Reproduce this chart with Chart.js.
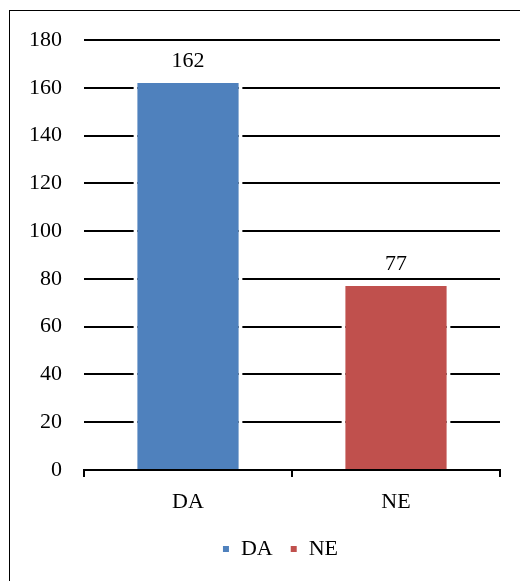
<!DOCTYPE html>
<html>
<head>
<meta charset="utf-8">
<script src="https://cdn.jsdelivr.net/npm/chart.js@4/dist/chart.umd.min.js"></script>
<style>
  html, body { margin: 0; padding: 0; background: #fff; overflow: hidden; }
  #frame { position: absolute; left: 9px; top: 10px; width: 540px; height: 600px; border: 1.5px solid #000; box-sizing: border-box; }
  #wrap { position: absolute; left: 0; top: 0; width: 520px; height: 581px; }
</style>
</head>
<body>
<div id="frame"></div>
<div id="wrap"><canvas id="myChart"></canvas></div>
<script>
// values
const categories = ['DA', 'NE']
const counts = [162, 77]
const barColors = ['#4F81BD', '#C0504D']
const yTicks = [0, 20, 40, 60, 80, 100, 120, 140, 160, 180]

const fontFamily = '"Liberation Serif", "Times New Roman", serif'
const fontSize = 22

// value on top of each bar
const topLabels = {
	id: 'topLabels',
	afterDatasetsDraw(chart) {
		const ctx = chart.ctx
		ctx.save()
		ctx.font = fontSize + 'px ' + fontFamily
		ctx.fillStyle = '#000'
		ctx.textAlign = 'center'
		ctx.textBaseline = 'bottom'
		chart.data.datasets.forEach((ds, i) => {
			const meta = chart.getDatasetMeta(i)
			meta.data.forEach((bar, j) => {
				if (ds.data[j] == null) return
				ctx.fillText(ds.data[j], bar.x, bar.y - 11)
			})
		})
		ctx.restore()
	}
}

// legend sits a bit right of centre in the original
const legendShift = {
	id: 'legendShift',
	afterLayout(chart) {
		chart.legend.left += 30
		chart.legend.right += 30
	}
}

// one dataset per category so the legend shows both
const datasets = categories.map((name, i) => ({
	label: name,
	data: categories.map((c, j) => (j === i ? counts[i] : null)),
	backgroundColor: barColors[i],
	borderColor: '#ffffff',
	borderWidth: { top: 0, left: 4, right: 4, bottom: 0 },
	borderSkipped: false,
	skipNull: true,
	barPercentage: 0.525,
	categoryPercentage: 1.0,
}))

new Chart(document.getElementById('myChart'), {
	type: 'bar',
	data: { labels: categories, datasets: datasets },
	plugins: [topLabels, legendShift],
	options: {
		responsive: true,
		maintainAspectRatio: false,
		animation: false,
		layout: { padding: { left: 0, right: 20, top: 40, bottom: 11 } },
		plugins: {
			tooltip: { enabled: false },
			legend: {
				position: 'bottom',
				labels: {
					boxWidth: 8,
					boxHeight: 8,
					color: '#000',
					font: { family: fontFamily, size: fontSize },
					padding: 17,
				}
			}
		},
		scales: {
			x: {
				stacked: true,
				afterFit: (scale) => { scale.height = 51 },
				grid: { display: true, drawOnChartArea: false, offset: true, color: '#000', lineWidth: 2, tickLength: 7 },
				border: { display: true, color: '#000', width: 2 },
				ticks: { color: '#000', font: { family: fontFamily, size: fontSize }, padding: 12 },
			},
			y: {
				min: 0,
				max: 180,
				afterBuildTicks: (scale) => { scale.ticks = yTicks.map(v => ({ value: v })) },
				afterFit: (scale) => { scale.width = 84 },
				grid: { color: '#000', lineWidth: 2, drawTicks: false },
				border: { display: false },
				ticks: { color: '#000', font: { family: fontFamily, size: fontSize }, padding: 22 },
			}
		}
	}
})
</script>
</body>
</html>
